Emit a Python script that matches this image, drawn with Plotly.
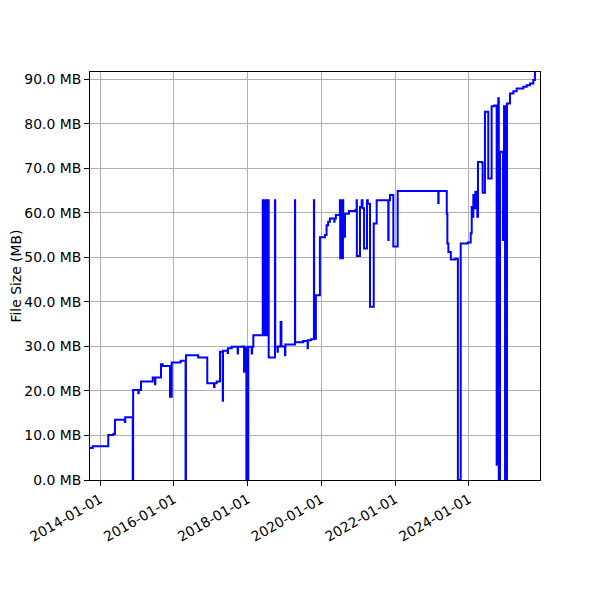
import plotly.graph_objects as go

dates = [
    "2013-09-24", "2013-10-20", "2014-03-24", "2014-05-13", "2014-05-29", "2014-09-04", "2014-09-08",
    "2014-11-21", "2014-11-25", "2015-01-16", "2015-01-19", "2015-02-11", "2015-06-07", "2015-06-30",
    "2015-07-03", "2015-08-28", "2015-09-14", "2015-11-25", "2015-12-12", "2016-03-09", "2016-04-27",
    "2016-05-01", "2016-08-30", "2016-11-28", "2017-02-03", "2017-02-07", "2017-03-01", "2017-04-03",
    "2017-04-30", "2017-05-03", "2017-06-18", "2017-06-21", "2017-07-28", "2017-09-25", "2017-09-28",
    "2017-11-04", "2017-11-27", "2017-12-09", "2017-12-20", "2018-01-08", "2018-02-11", "2018-02-15",
    "2018-02-27",
    "2018-05-31", "2018-06-03", "2018-06-06", "2018-06-09", "2018-06-12", "2018-06-15", "2018-06-18",
    "2018-06-21", "2018-06-24", "2018-06-27", "2018-06-30", "2018-07-03", "2018-07-06", "2018-07-09",
    "2018-07-12", "2018-07-15", "2018-07-18", "2018-07-21", "2018-07-24",
    "2018-07-29", "2018-09-29", "2018-10-02", "2018-10-25", "2018-10-28", "2018-11-24", "2018-12-02",
    "2019-01-06", "2019-01-10", "2019-04-15", "2019-04-17", "2019-07-06", "2019-08-18", "2019-08-21",
    "2019-09-20", "2019-10-20", "2019-10-22", "2019-11-08", "2019-12-18", "2020-02-06", "2020-02-22",
    "2020-03-09", "2020-03-26", "2020-05-08", "2020-05-11", "2020-05-24",
    "2020-07-03", "2020-07-06", "2020-07-09", "2020-07-12", "2020-07-15", "2020-07-18", "2020-07-21",
    "2020-07-24", "2020-07-27", "2020-07-30", "2020-08-02", "2020-08-05",
    "2020-08-07", "2020-08-22", "2020-09-30", "2020-12-06", "2020-12-16", "2020-12-18", "2021-01-18",
    "2021-02-04", "2021-02-12", "2021-02-27", "2021-03-28", "2021-04-05", "2021-04-27", "2021-06-03",
    "2021-07-02", "2021-10-25", "2021-10-28", "2021-11-11", "2021-12-14", "2022-01-26", "2023-03-04",
    "2023-03-07", "2023-05-27", "2023-06-02", "2023-06-12", "2023-07-06", "2023-08-20", "2023-09-14",
    "2023-10-12", "2023-12-20", "2024-01-19", "2024-01-29", "2024-02-08", "2024-02-14", "2024-02-24",
    "2024-03-05", "2024-03-24", "2024-03-31", "2024-05-10", "2024-05-16", "2024-06-08", "2024-07-11",
    "2024-08-13", "2024-09-08", "2024-10-02", "2024-10-18", "2024-10-23", "2024-11-04", "2024-12-04",
    "2024-12-14", "2024-12-24", "2025-01-12", "2025-02-11", "2025-03-16", "2025-04-18", "2025-06-23",
    "2025-07-26", "2025-08-28", "2025-09-30", "2025-10-16", "2025-10-20",
]

sizes_mb = [
    7.2, 7.6, 10.1, 10.3, 13.5, 13.0, 14.1,
    0.0, 20.2, 19.5, 20.2, 22.1, 23.0, 21.5,
    23.0, 26.0, 25.6, 18.7, 26.4, 26.8, 0.0,
    28.0, 27.5, 21.7, 20.9, 21.7, 22.1, 28.8,
    17.8, 29.0, 28.5, 29.6, 29.9, 28.4, 29.9,
    30.0, 24.3, 29.8, 0.0, 29.9, 28.4, 29.9,
    32.5,
    62.8, 32.5, 62.8, 32.5, 62.8, 32.5, 62.8,
    32.5, 62.8, 32.5, 62.8, 32.5, 62.8, 32.5,
    62.8, 32.5, 62.8, 32.5, 62.8,
    27.5, 62.8, 29.9, 28.8, 30.0, 35.5, 30.0,
    28.0, 30.4, 62.8, 30.9, 31.2, 29.6, 31.4,
    31.6, 62.8, 31.7, 41.5, 54.5, 55.0, 57.2,
    58.0, 58.7, 58.0, 58.7, 59.5,
    62.8, 49.8, 62.8, 49.8, 62.8, 49.8, 62.8,
    49.8, 62.8, 49.8, 62.8, 59.5,
    54.6, 59.8, 60.4, 60.7, 62.8, 50.3, 61.3,
    62.8, 61.0, 52.0, 62.8, 62.0, 38.9, 57.6,
    62.8, 53.9, 62.8, 64.0, 52.4, 64.9, 62.2,
    64.9, 59.8, 53.1, 51.2, 49.5, 49.7, 0.0,
    53.1, 53.3, 55.4, 61.3, 59.1, 64.0, 61.0,
    64.7, 59.1, 71.4, 71.2, 64.5, 82.7, 67.7,
    83.9, 84.1, 3.4, 85.7, 0.0, 73.7, 53.9,
    83.9, 0.0, 84.5, 86.8, 87.3, 87.9, 88.3,
    88.6, 89.0, 89.8, 92.0, 92.0,
]

y_ticks = [0, 10, 20, 30, 40, 50, 60, 70, 80, 90]
y_tick_labels = [f"{v:.1f} MB" for v in y_ticks]
x_ticks = ["2014-01-01", "2016-01-01", "2018-01-01", "2020-01-01", "2022-01-01", "2024-01-01"]

font = dict(family="DejaVu Sans", size=13.9, color="black")

fig = go.Figure(
    go.Scatter(
        x=dates,
        y=sizes_mb,
        mode="lines",
        line=dict(color="#0000ff", width=2, shape="hv"),
        showlegend=False,
    )
)

fig.update_layout(
    width=600,
    height=600,
    margin=dict(l=82, r=68, t=64, b=128),
    plot_bgcolor="white",
    paper_bgcolor="white",
    font=font,
)

fig.update_xaxes(
    type="date",
    range=["2013-09-24", "2025-12-05"],
    tickvals=x_ticks,
    ticktext=x_ticks,
    tickangle=-30,
    showgrid=True,
    gridcolor="#b0b0b0",
    gridwidth=1,
    showline=True,
    linecolor="black",
    linewidth=1,
    mirror=True,
    ticks="outside",
    ticklen=5,
    tickcolor="black",
    zeroline=False,
    tickfont=font,
)

fig.update_yaxes(
    range=[0, 91.6],
    tickvals=y_ticks,
    ticktext=y_tick_labels,
    showgrid=True,
    gridcolor="#b0b0b0",
    gridwidth=1,
    showline=True,
    linecolor="black",
    linewidth=1,
    mirror=True,
    ticks="outside",
    ticklen=5,
    tickcolor="black",
    zeroline=False,
    tickfont=font,
    automargin=False,
    title=dict(text="File Size (MB)", font=font, standoff=8),
)

fig.write_html("out.html")
